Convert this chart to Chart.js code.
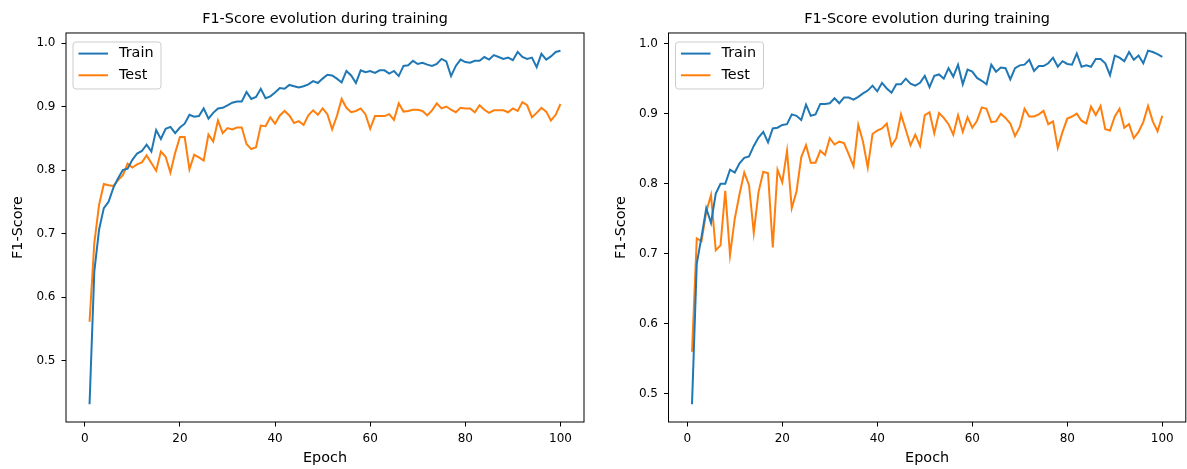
<!DOCTYPE html>
<html>
<head>
<meta charset="utf-8">
<title>F1-Score evolution during training</title>
<script src="https://cdn.jsdelivr.net/npm/chart.js@4.4.0/dist/chart.umd.min.js"></script>
<style>
  body { margin: 0; background: #fff; }
  #izq { position: absolute; left: 0; top: 0; }
  #der { position: absolute; left: 594px; top: 0; }
</style>
</head>
<body>
<canvas id="izq" width="593" height="469"></canvas>
<canvas id="der" width="593" height="469"></canvas>
<script>
//------- Datos -------//
const epochs = Array.from({length: 100}, (_, i) => i + 1);
const xTicks = [0, 20, 40, 60, 80, 100];
const yTicks = [0.5, 0.6, 0.7, 0.8, 0.9, 1.0];

// grafico izquierdo
const trainIzq = [
  0.431, 0.64, 0.706, 0.74, 0.75, 0.772, 0.787, 0.80, 0.802, 0.816,
  0.826, 0.83, 0.84, 0.829, 0.863, 0.849, 0.865, 0.868, 0.858, 0.867,
  0.873, 0.887, 0.884, 0.885, 0.897, 0.881, 0.89, 0.897, 0.898, 0.902,
  0.906, 0.908, 0.908, 0.923, 0.912, 0.915, 0.928, 0.913, 0.916, 0.922,
  0.929, 0.928, 0.934, 0.932, 0.930, 0.932, 0.935, 0.94, 0.937, 0.944,
  0.95, 0.949, 0.944, 0.938, 0.956, 0.949, 0.937, 0.957, 0.954, 0.956,
  0.953, 0.957, 0.957, 0.952, 0.956, 0.948, 0.964, 0.965, 0.972, 0.967,
  0.969, 0.966, 0.964, 0.967, 0.975, 0.971, 0.948, 0.964, 0.974, 0.97,
  0.969, 0.972, 0.972, 0.978, 0.974, 0.981, 0.978, 0.975, 0.977, 0.973,
  0.986, 0.978, 0.975, 0.977, 0.962, 0.983, 0.974, 0.979, 0.986, 0.988
];
const testIzq = [
  0.561, 0.685, 0.745, 0.778, 0.776, 0.775, 0.784, 0.792, 0.81, 0.804,
  0.809, 0.812, 0.823, 0.811, 0.799, 0.829, 0.821, 0.796, 0.827, 0.852,
  0.852, 0.801, 0.824, 0.82, 0.815, 0.856, 0.845, 0.878, 0.858, 0.866,
  0.864, 0.867, 0.867, 0.841, 0.833, 0.836, 0.87, 0.869, 0.883, 0.873,
  0.886, 0.893, 0.886, 0.874, 0.877, 0.871, 0.886, 0.894, 0.887, 0.897,
  0.888, 0.864, 0.885, 0.912, 0.898, 0.891, 0.893, 0.897, 0.888, 0.865,
  0.885, 0.885, 0.885, 0.888, 0.879, 0.905, 0.892, 0.893, 0.895, 0.895,
  0.893, 0.886, 0.894, 0.905, 0.897, 0.9, 0.895, 0.891, 0.898, 0.897,
  0.897, 0.891, 0.902, 0.895, 0.89, 0.894, 0.894, 0.894, 0.891, 0.897,
  0.893, 0.907, 0.902, 0.883, 0.89, 0.898, 0.892, 0.878, 0.887, 0.904
];

// grafico derecho
const trainDer = [
  0.485, 0.686, 0.724, 0.765, 0.744, 0.786, 0.80, 0.80, 0.82, 0.816,
  0.829, 0.837, 0.839, 0.854, 0.866, 0.874, 0.859, 0.879, 0.88, 0.884,
  0.885, 0.899, 0.897, 0.891, 0.913, 0.897, 0.899, 0.914, 0.914, 0.915,
  0.922, 0.915, 0.923, 0.923, 0.92, 0.924, 0.929, 0.933, 0.94, 0.932,
  0.944, 0.936, 0.93, 0.942, 0.942, 0.95, 0.943, 0.94, 0.944, 0.954,
  0.938, 0.954, 0.956, 0.95, 0.965, 0.953, 0.97, 0.942, 0.963, 0.96,
  0.951, 0.947, 0.942, 0.97, 0.96, 0.966, 0.965, 0.949, 0.965, 0.969,
  0.97, 0.977, 0.961, 0.968, 0.968, 0.972, 0.98, 0.967, 0.975, 0.971,
  0.97, 0.986, 0.967, 0.969, 0.967, 0.978, 0.978, 0.972, 0.955, 0.983,
  0.98, 0.975, 0.988, 0.977, 0.983, 0.972, 0.99, 0.988, 0.985, 0.981
];
const testDer = [
  0.56, 0.722, 0.718, 0.76, 0.784, 0.705, 0.712, 0.79, 0.698, 0.75,
  0.785, 0.816, 0.798, 0.73, 0.788, 0.817, 0.815, 0.709, 0.82, 0.802,
  0.847, 0.765, 0.789, 0.838, 0.855, 0.83, 0.83, 0.847, 0.841, 0.865,
  0.856, 0.86, 0.858, 0.842, 0.825, 0.884, 0.86, 0.823, 0.871, 0.876,
  0.879, 0.886, 0.854, 0.865, 0.899, 0.877, 0.855, 0.87, 0.854, 0.898,
  0.902, 0.872, 0.901, 0.894, 0.885, 0.87, 0.898, 0.874, 0.895, 0.88,
  0.89, 0.909, 0.907, 0.888, 0.889, 0.9, 0.894, 0.886, 0.868, 0.881,
  0.907, 0.896, 0.896, 0.899, 0.904, 0.885, 0.889, 0.851, 0.874, 0.893,
  0.896, 0.9, 0.89, 0.886, 0.91, 0.898, 0.911, 0.878, 0.876, 0.896,
  0.907, 0.88, 0.885, 0.865, 0.874, 0.888, 0.911, 0.889, 0.875, 0.897
];

Chart.defaults.font.family = '"DejaVu Sans", sans-serif';
Chart.defaults.color = '#000';

//------- Marco y leyenda dentro del area (como matplotlib) -------//
const marcoLeyenda = {
  id: 'marcoLeyenda',
  afterDatasetsDraw(chart) {
    const ctx = chart.ctx;
    const a = chart.chartArea;
    ctx.save();
    ctx.strokeStyle = '#000';
    ctx.lineWidth = 1;
    ctx.strokeRect(a.left, a.top, a.right - a.left, a.bottom - a.top);

    const bx = a.left + 7, by = a.top + 9;
    ctx.fillStyle = 'rgba(255,255,255,0.8)';
    ctx.strokeStyle = '#cccccc';
    ctx.beginPath();
    ctx.roundRect(bx, by, 88, 47, 3);
    ctx.fill();
    ctx.stroke();

    ctx.font = '14.4px "DejaVu Sans"';
    ctx.textBaseline = 'middle';
    chart.data.datasets.forEach(function (ds, i) {
      const y = by + 11.6 + i * 21.7;
      ctx.strokeStyle = ds.borderColor;
      ctx.lineWidth = 2;
      ctx.beginPath();
      ctx.moveTo(bx + 5.5, y);
      ctx.lineTo(bx + 35, y);
      ctx.stroke();
      ctx.fillStyle = '#000';
      ctx.fillText(ds.label, bx + 46, y);
    });
    ctx.restore();
  }
};

function crearGrafico(id, train, test, padIzq, padDer) {
  // margen automatico de 5% como matplotlib
  const todos = train.concat(test);
  const yMin = Math.min(...todos), yMax = Math.max(...todos);
  const my = (yMax - yMin) * 0.05;
  const mx = (epochs[epochs.length - 1] - epochs[0]) * 0.05;

  const ejeGrid = {
    display: true, drawOnChartArea: false, drawTicks: true,
    tickLength: 4.5, tickColor: '#000', tickWidth: 1
  };

  return new Chart(document.getElementById(id), {
    type: 'line',
    data: {
      datasets: [{
        label: 'Train',
        data: epochs.map((e, i) => ({x: e, y: train[i]})),
        borderColor: '#1f77b4',
        borderWidth: 2,
        pointRadius: 0,
        tension: 0
      }, {
        label: 'Test',
        data: epochs.map((e, i) => ({x: e, y: test[i]})),
        borderColor: '#ff7f0e',
        borderWidth: 2,
        pointRadius: 0,
        tension: 0
      }]
    },
    options: {
      responsive: false,
      devicePixelRatio: 1,
      animation: false,
      layout: { padding: { left: padIzq, right: padDer, top: 0, bottom: 0 } },
      plugins: {
        legend: { display: false },
        tooltip: { enabled: false },
        title: {
          display: true,
          text: 'F1-Score evolution during training',
          fullSize: false,
          color: '#000',
          font: { size: 14.4, weight: 'normal' },
          padding: { top: 11, bottom: 4.7 }
        }
      },
      scales: {
        x: {
          type: 'linear',
          min: epochs[0] - mx,
          max: epochs[epochs.length - 1] + mx,
          afterBuildTicks: s => { s.ticks = xTicks.map(v => ({value: v})); },
          afterFit: s => { s.height = 47; },
          grid: ejeGrid,
          border: { display: false },
          ticks: { color: '#000', font: { size: 12 }, padding: 5, maxRotation: 0 },
          title: { display: true, text: 'Epoch', color: '#000', font: { size: 14.4 }, padding: { top: 0, bottom: 2.4 } }
        },
        y: {
          min: yMin - my,
          max: yMax + my,
          afterBuildTicks: s => { s.ticks = yTicks.map(v => ({value: v})); },
          afterFit: s => { s.width = 66; },
          grid: ejeGrid,
          border: { display: false },
          ticks: { color: '#000', font: { size: 12 }, padding: 6, callback: v => v.toFixed(1) },
          title: { display: true, text: 'F1-Score', color: '#000', font: { size: 14.4 }, padding: { top: 9.9, bottom: 0 } }
        }
      }
    },
    plugins: [marcoLeyenda]
  });
}

crearGrafico('izq', trainIzq, testIzq, 0, 9);
crearGrafico('der', trainDer, testDer, 8.5, 1.2);
</script>
</body>
</html>
